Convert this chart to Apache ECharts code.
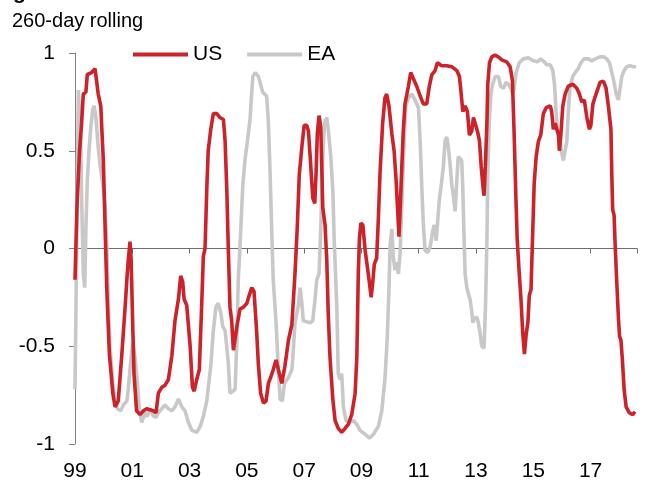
<!DOCTYPE html>
<html>
<head>
<meta charset="utf-8">
<script src="https://cdn.jsdelivr.net/npm/echarts@6/dist/echarts.min.js"></script>
<style>
html,body{margin:0;padding:0;background:#fff;}
#chart{width:669px;height:485px;}
</style>
</head>
<body>
<div id="chart"></div>
<script>
// Decimal years and 260-day rolling correlation values
const usYears = [1999.00,1999.07,1999.16,1999.23,1999.29,1999.38,1999.43,1999.58,1999.70,1999.76,1999.81,1999.90,1999.94,1999.99,2000.05,2000.11,2000.20,2000.32,2000.40,2000.51,2000.63,2000.75,2000.81,2000.86,2000.92,2000.96,2001.02,2001.06,2001.15,2001.27,2001.39,2001.50,2001.62,2001.73,2001.83,2001.91,2002.03,2002.14,2002.26,2002.38,2002.49,2002.55,2002.61,2002.69,2002.76,2002.81,2002.90,2003.02,2003.10,2003.16,2003.25,2003.34,2003.42,2003.48,2003.54,2003.60,2003.65,2003.74,2003.83,2003.95,2004.06,2004.18,2004.24,2004.30,2004.35,2004.41,2004.47,2004.53,2004.65,2004.76,2004.88,2005.00,2005.06,2005.17,2005.25,2005.34,2005.40,2005.48,2005.58,2005.67,2005.75,2005.83,2005.92,2006.02,2006.10,2006.22,2006.33,2006.45,2006.57,2006.68,2006.76,2006.83,2006.92,2007.00,2007.09,2007.15,2007.21,2007.30,2007.37,2007.42,2007.46,2007.52,2007.58,2007.65,2007.73,2007.79,2007.84,2007.90,2008.00,2008.08,2008.19,2008.31,2008.43,2008.54,2008.66,2008.78,2008.84,2008.89,2008.93,2008.98,2009.05,2009.13,2009.24,2009.34,2009.39,2009.45,2009.53,2009.59,2009.65,2009.74,2009.82,2009.88,2009.96,2010.06,2010.14,2010.21,2010.27,2010.31,2010.35,2010.41,2010.46,2010.52,2010.64,2010.72,2010.81,2010.93,2011.05,2011.16,2011.28,2011.37,2011.46,2011.57,2011.65,2011.80,2011.98,2012.15,2012.33,2012.42,2012.47,2012.54,2012.62,2012.70,2012.77,2012.85,2012.91,2012.97,2013.05,2013.12,2013.18,2013.24,2013.28,2013.33,2013.38,2013.41,2013.47,2013.55,2013.67,2013.78,2013.90,2014.07,2014.19,2014.27,2014.33,2014.39,2014.44,2014.51,2014.57,2014.63,2014.69,2014.75,2014.81,2014.86,2014.92,2014.97,2015.03,2015.10,2015.18,2015.26,2015.35,2015.45,2015.59,2015.64,2015.70,2015.76,2015.82,2015.88,2015.91,2015.96,2016.03,2016.11,2016.22,2016.38,2016.52,2016.61,2016.69,2016.78,2016.87,2016.96,2017.01,2017.08,2017.19,2017.33,2017.45,2017.54,2017.62,2017.71,2017.74,2017.77,2017.82,2017.86,2017.91,2017.97,2018.01,2018.06,2018.11,2018.17,2018.24,2018.35,2018.47,2018.55];
const usValues = [-0.16,0.22,0.50,0.64,0.79,0.80,0.89,0.90,0.92,0.85,0.79,0.73,0.60,0.45,0.11,-0.21,-0.54,-0.74,-0.81,-0.78,-0.55,-0.30,-0.16,-0.06,0.035,-0.06,-0.42,-0.64,-0.83,-0.85,-0.83,-0.82,-0.825,-0.83,-0.84,-0.74,-0.71,-0.70,-0.67,-0.55,-0.37,-0.36,-0.26,-0.14,-0.17,-0.26,-0.29,-0.50,-0.71,-0.73,-0.67,-0.62,-0.30,-0.04,0.00,0.30,0.50,0.61,0.69,0.69,0.67,0.66,0.55,0.30,0.01,-0.30,-0.37,-0.52,-0.40,-0.31,-0.30,-0.28,-0.25,-0.20,-0.22,-0.42,-0.59,-0.74,-0.79,-0.78,-0.69,-0.66,-0.62,-0.57,-0.62,-0.69,-0.60,-0.47,-0.39,-0.13,0.11,0.38,0.52,0.63,0.63,0.60,0.47,0.26,0.23,0.40,0.59,0.68,0.62,0.21,0.12,-0.06,-0.33,-0.55,-0.77,-0.88,-0.92,-0.94,-0.92,-0.90,-0.85,-0.74,-0.55,-0.13,0.05,0.13,0.12,-0.01,-0.13,-0.25,-0.18,-0.08,-0.05,0.15,0.39,0.64,0.77,0.79,0.73,0.59,0.50,0.35,0.18,0.06,0.20,0.42,0.60,0.74,0.83,0.90,0.87,0.83,0.78,0.74,0.74,0.83,0.89,0.91,0.95,0.935,0.935,0.93,0.91,0.88,0.81,0.70,0.73,0.70,0.58,0.60,0.67,0.64,0.60,0.55,0.42,0.32,0.27,0.44,0.64,0.84,0.95,0.98,0.99,0.98,0.965,0.955,0.93,0.86,0.59,0.27,0.04,-0.13,-0.26,-0.43,-0.54,-0.44,-0.38,-0.24,-0.21,0.04,0.33,0.47,0.55,0.58,0.69,0.72,0.73,0.70,0.61,0.64,0.65,0.58,0.50,0.58,0.73,0.79,0.83,0.84,0.82,0.79,0.75,0.76,0.67,0.61,0.63,0.74,0.79,0.85,0.855,0.82,0.73,0.61,0.38,0.20,0.17,0.01,-0.16,-0.35,-0.45,-0.47,-0.57,-0.72,-0.81,-0.84,-0.85,-0.835];

const eaYears = [1999.00,1999.04,1999.07,1999.12,1999.15,1999.20,1999.24,1999.29,1999.34,1999.38,1999.43,1999.49,1999.55,1999.62,1999.67,1999.73,1999.81,1999.87,1999.97,2000.05,2000.11,2000.16,2000.22,2000.32,2000.40,2000.48,2000.60,2000.69,2000.81,2000.86,2000.95,2001.02,2001.10,2001.18,2001.25,2001.33,2001.44,2001.52,2001.62,2001.73,2001.83,2001.91,2002.03,2002.14,2002.26,2002.38,2002.49,2002.61,2002.73,2002.84,2002.96,2003.08,2003.25,2003.37,2003.48,2003.60,2003.74,2003.83,2003.92,2004.00,2004.09,2004.16,2004.24,2004.30,2004.35,2004.41,2004.51,2004.59,2004.65,2004.70,2004.76,2004.86,2004.94,2005.02,2005.11,2005.17,2005.21,2005.29,2005.40,2005.46,2005.55,2005.69,2005.75,2005.81,2005.87,2005.92,2006.02,2006.10,2006.16,2006.24,2006.31,2006.45,2006.57,2006.60,2006.68,2006.80,2006.86,2006.92,2006.97,2007.09,2007.21,2007.30,2007.38,2007.44,2007.52,2007.58,2007.65,2007.71,2007.79,2007.84,2007.93,2008.00,2008.05,2008.14,2008.19,2008.25,2008.31,2008.37,2008.46,2008.58,2008.72,2008.84,2008.95,2009.13,2009.28,2009.42,2009.59,2009.71,2009.82,2009.90,2009.96,2010.00,2010.06,2010.11,2010.17,2010.23,2010.29,2010.35,2010.43,2010.49,2010.55,2010.64,2010.76,2010.87,2010.99,2011.05,2011.11,2011.16,2011.22,2011.32,2011.40,2011.49,2011.54,2011.61,2011.65,2011.72,2011.79,2011.86,2011.92,2011.98,2012.03,2012.09,2012.15,2012.21,2012.27,2012.33,2012.38,2012.44,2012.50,2012.54,2012.58,2012.62,2012.68,2012.73,2012.79,2012.85,2012.89,2012.93,2013.03,2013.08,2013.14,2013.20,2013.28,2013.33,2013.38,2013.41,2013.46,2013.52,2013.58,2013.67,2013.78,2013.86,2013.96,2014.05,2014.13,2014.21,2014.28,2014.33,2014.40,2014.51,2014.65,2014.83,2015.00,2015.14,2015.26,2015.38,2015.47,2015.59,2015.68,2015.74,2015.80,2015.85,2015.93,2015.99,2016.05,2016.11,2016.17,2016.22,2016.28,2016.38,2016.46,2016.57,2016.66,2016.77,2016.92,2017.04,2017.16,2017.33,2017.47,2017.56,2017.66,2017.74,2017.82,2017.89,2017.97,2018.03,2018.09,2018.17,2018.26,2018.38,2018.49,2018.59];
const eaValues = [-0.72,-0.23,0.20,0.81,0.82,0.55,0.20,-0.13,-0.20,0.10,0.35,0.50,0.62,0.71,0.73,0.67,0.52,0.43,0.33,0.22,0.01,-0.26,-0.50,-0.69,-0.78,-0.82,-0.83,-0.80,-0.78,-0.72,-0.57,-0.48,-0.56,-0.69,-0.83,-0.89,-0.84,-0.86,-0.82,-0.855,-0.865,-0.84,-0.82,-0.80,-0.82,-0.83,-0.81,-0.77,-0.81,-0.83,-0.89,-0.93,-0.94,-0.91,-0.86,-0.78,-0.60,-0.42,-0.30,-0.28,-0.33,-0.40,-0.42,-0.42,-0.58,-0.74,-0.73,-0.72,-0.47,-0.16,0.01,0.33,0.46,0.55,0.66,0.80,0.88,0.90,0.88,0.85,0.80,0.78,0.65,0.39,0.08,-0.16,-0.38,-0.62,-0.77,-0.78,-0.69,-0.66,-0.62,-0.57,-0.38,-0.29,-0.20,-0.28,-0.37,-0.375,-0.38,-0.37,-0.26,-0.16,-0.13,0.10,0.47,0.64,0.67,0.61,0.47,0.30,0.04,-0.30,-0.64,-0.67,-0.64,-0.81,-0.88,-0.89,-0.88,-0.90,-0.93,-0.95,-0.97,-0.95,-0.91,-0.83,-0.67,-0.46,-0.21,0.01,0.10,-0.04,-0.11,-0.07,-0.13,-0.02,0.30,0.55,0.73,0.77,0.79,0.76,0.72,0.55,0.30,0.13,-0.01,-0.02,0.01,0.09,0.12,0.04,0.12,0.25,0.33,0.42,0.55,0.57,0.52,0.44,0.33,0.27,0.19,0.35,0.47,0.47,0.45,0.30,0.07,-0.13,-0.20,-0.23,-0.26,-0.32,-0.38,-0.36,-0.35,-0.38,-0.43,-0.50,-0.51,-0.30,0.04,0.38,0.64,0.79,0.84,0.88,0.88,0.83,0.82,0.85,0.84,0.82,0.79,0.82,0.90,0.95,0.97,0.975,0.96,0.955,0.97,0.955,0.94,0.94,0.91,0.84,0.69,0.59,0.54,0.49,0.45,0.46,0.55,0.69,0.83,0.88,0.90,0.92,0.95,0.97,0.97,0.96,0.97,0.98,0.98,0.97,0.95,0.90,0.85,0.79,0.76,0.82,0.88,0.91,0.93,0.935,0.93,0.93];

const yTicks = [-1, -0.5, 0, 0.5, 1];
const startYear = 1999;
const endYear = 2018.62;

const FONT = '"Liberation Sans", Arial, sans-serif';
const toPairs = (xs, ys) => xs.map((x, i) => [x - startYear, ys[i]]);
const yearLabel = v => String((startYear + Math.round(v)) % 100).padStart(2, '0');

const chart = echarts.init(document.getElementById('chart'), null, {renderer: 'canvas'});
chart.setOption({
  animation: false,
  backgroundColor: '#ffffff',
  textStyle: {fontFamily: FONT},
  graphic: [
    {type: 'text', left: 13, top: -17, style: {text: 'g', font: 'bold 21px ' + FONT, fill: '#000'}},
    {type: 'text', left: 12, top: 11, style: {text: '260-day rolling', font: '20px ' + FONT, fill: '#000'}}
  ],
  legend: {
    data: ['US', 'EA'],
    left: 128, top: 39,
    icon: 'rect', itemWidth: 55, itemHeight: 4, itemGap: 25,
    textStyle: {fontSize: 21, color: '#000', fontFamily: FONT, padding: [0, 0, 0, 0]}
  },
  grid: {left: 75, top: 53, right: 32, bottom: 41, containLabel: false},
  xAxis: [
    {
      type: 'value', position: 'bottom', min: 0, max: endYear - startYear, interval: 2,
      axisLine: {show: false, onZero: false}, axisTick: {show: false}, splitLine: {show: false},
      axisLabel: {formatter: yearLabel, fontSize: 21, color: '#000', margin: 17, fontFamily: FONT,
                  showMaxLabel: false}
    },
    {
      type: 'value', position: 'bottom', min: 0, max: endYear - startYear, interval: 2,
      axisLine: {show: true, onZero: true, lineStyle: {color: '#6e6e6e', width: 1}},
      axisTick: {show: true, length: 5, lineStyle: {color: '#6e6e6e'}},
      axisLabel: {show: false}, splitLine: {show: false}
    }
  ],
  yAxis: {
    type: 'value', min: -1, max: 1, interval: 0.5,
    axisLine: {show: true, lineStyle: {color: '#808080', width: 1}},
    axisTick: {show: true, length: 6, lineStyle: {color: '#808080'}},
    splitLine: {show: false},
    axisLabel: {fontSize: 21, color: '#000', margin: 20, fontFamily: FONT,
                formatter: v => yTicks.includes(v) ? String(v) : ''}
  },
  series: [
    {
      name: 'EA', type: 'line', xAxisIndex: 0, data: toPairs(eaYears, eaValues),
      showSymbol: false, symbol: 'none', smooth: false,
      lineStyle: {color: '#c8c8c8', width: 3.6}, itemStyle: {color: '#c8c8c8'}
    },
    {
      name: 'US', type: 'line', xAxisIndex: 0, data: toPairs(usYears, usValues),
      showSymbol: false, symbol: 'none', smooth: false,
      lineStyle: {color: '#cc2229', width: 3.6}, itemStyle: {color: '#cc2229'}
    }
  ]
});
</script>
</body>
</html>
